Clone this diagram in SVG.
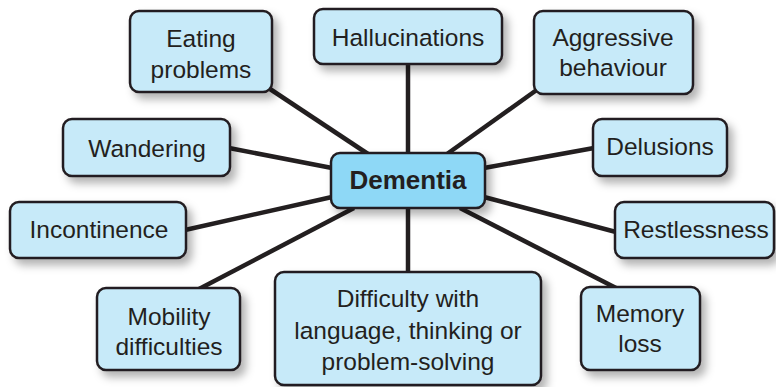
<svg xmlns="http://www.w3.org/2000/svg" width="776" height="387" viewBox="0 0 776 387">
<style>
.box{fill:#c7eaf9;stroke:#231f20;stroke-width:2.5;filter:url(#sh)}
.main{fill:#8ed8f6;stroke:#231f20;stroke-width:2.5;filter:url(#sh)}
.t{font-family:"Liberation Sans",Arial,sans-serif;font-size:24.5px;fill:#231f20;text-anchor:middle}
.b{font-weight:bold;font-size:26px}
.c line{stroke:#231f20;stroke-width:4.5}
</style>
<defs>
<filter id="sh" x="-20%" y="-20%" width="150%" height="160%">
<feDropShadow dx="5" dy="6" stdDeviation="4" flood-color="#000" flood-opacity="0.3"/>
</filter>
</defs>
<rect width="776" height="387" fill="#fff"/>
<g id="connectors" class="c">
<line x1="270" y1="89" x2="368" y2="154"/>
<line x1="408" y1="64" x2="408" y2="154"/>
<line x1="538" y1="89" x2="447" y2="154"/>
<line x1="229" y1="148" x2="332" y2="168"/>
<line x1="484" y1="168" x2="594" y2="148"/>
<line x1="185" y1="230" x2="332" y2="197"/>
<line x1="484" y1="197" x2="616" y2="232"/>
<line x1="199" y1="289" x2="354" y2="208"/>
<line x1="408" y1="207" x2="408" y2="273"/>
<line x1="460" y1="208" x2="618" y2="289"/>
</g>
<g id="eating"><rect class="box" x="130" y="11" width="142" height="81" rx="9"/><text class="t" x="201" y="47">Eating</text><text class="t" x="201" y="78">problems</text></g>
<g id="hallucinations"><rect class="box" x="314" y="9" width="188" height="55" rx="9"/><text class="t" x="408" y="46">Hallucinations</text></g>
<g id="aggressive"><rect class="box" x="534" y="11" width="159" height="83" rx="9"/><text class="t" x="613" y="46">Aggressive</text><text class="t" x="613" y="76">behaviour</text></g>
<g id="wandering"><rect class="box" x="63" y="119" width="167" height="57" rx="9"/><text class="t" x="147" y="157">Wandering</text></g>
<g id="delusions"><rect class="box" x="593" y="119" width="134" height="57" rx="9"/><text class="t" x="660" y="155">Delusions</text></g>
<g id="dementia"><rect class="main" x="331" y="153" width="154" height="55" rx="9"/><text class="t b" x="408" y="189">Dementia</text></g>
<g id="incontinence"><rect class="box" x="10" y="202" width="176" height="56" rx="9"/><text class="t" x="99" y="238">Incontinence</text></g>
<g id="restlessness"><rect class="box" x="615" y="202" width="159" height="56" rx="9"/><text class="t" x="696" y="238">Restlessness</text></g>
<g id="mobility"><rect class="box" x="97" y="288" width="143" height="82" rx="9"/><text class="t" x="169" y="325">Mobility</text><text class="t" x="169" y="355">difficulties</text></g>
<g id="difficulty"><rect class="box" x="275" y="272" width="266" height="113" rx="9"/><text class="t" x="408" y="307">Difficulty with</text><text class="t" x="408" y="339">language, thinking or</text><text class="t" x="408" y="370">problem-solving</text></g>
<g id="memory"><rect class="box" x="581" y="287" width="119" height="83" rx="9"/><text class="t" x="640" y="322">Memory</text><text class="t" x="640" y="352">loss</text></g>
</svg>
